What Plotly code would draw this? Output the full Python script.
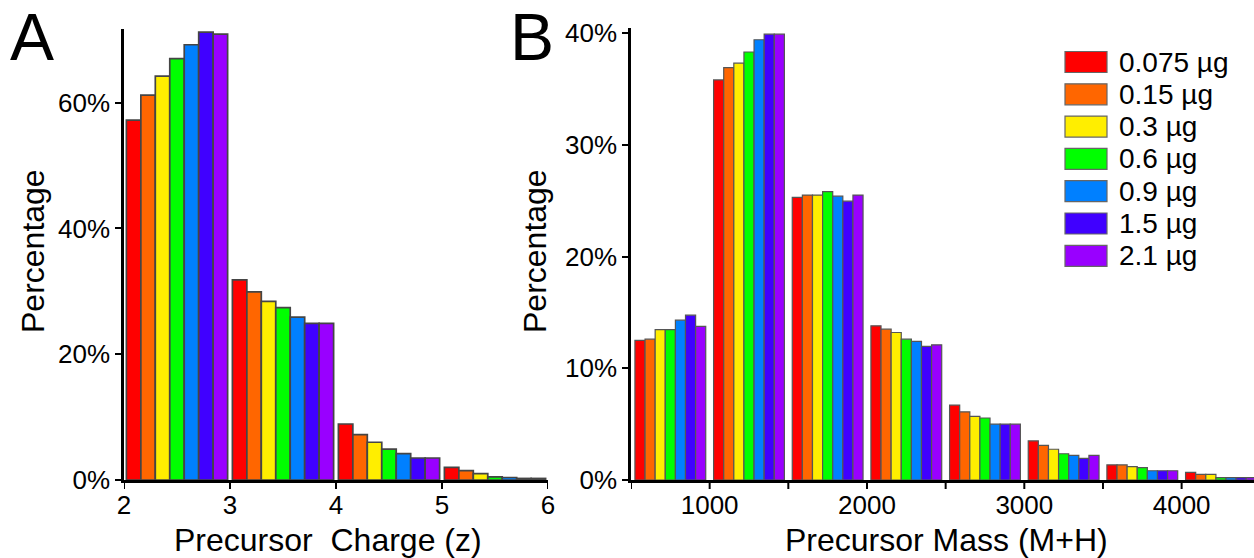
import plotly.graph_objects as go

W, H = 1254, 558

doses = ["0.075 µg", "0.15 µg", "0.3 µg", "0.6 µg", "0.9 µg", "1.5 µg", "2.1 µg"]
colors = ["#FF0000", "#FF6600", "#FFEE00", "#00FF00", "#0080FF", "#4000FF", "#9900FF"]

# Panel A: precursor charge bins (lower edge)
charge_bins = [2, 3, 4, 5]
charge_0075 = [57.2, 31.8, 8.9, 2.0]
charge_015 = [61.2, 29.9, 7.2, 1.5]
charge_03 = [64.2, 28.4, 6.0, 1.0]
charge_06 = [67.0, 27.4, 4.9, 0.5]
charge_09 = [69.2, 25.9, 4.2, 0.4]
charge_15 = [71.2, 24.9, 3.5, 0.25]
charge_21 = [70.9, 24.9, 3.5, 0.25]
charge_series = [charge_0075, charge_015, charge_03, charge_06, charge_09, charge_15, charge_21]

# Panel B: precursor mass bins (lower edge)
mass_bins = [500, 1000, 1500, 2000, 2500, 3000, 3500, 4000]
mass_0075 = [12.5, 35.8, 25.3, 13.8, 6.7, 3.5, 1.35, 0.68]
mass_015 = [12.6, 36.9, 25.5, 13.5, 6.1, 3.1, 1.35, 0.5]
mass_03 = [13.45, 37.3, 25.5, 13.2, 5.7, 2.75, 1.2, 0.5]
mass_06 = [13.45, 38.3, 25.8, 12.6, 5.55, 2.35, 1.1, 0.22]
mass_09 = [14.3, 39.4, 25.4, 12.4, 5.0, 2.2, 0.83, 0.22]
mass_15 = [14.75, 39.9, 24.95, 11.95, 5.0, 1.93, 0.83, 0.22]
mass_21 = [13.75, 39.9, 25.5, 12.1, 5.0, 2.2, 0.83, 0.22]
mass_series = [mass_0075, mass_015, mass_03, mass_06, mass_09, mass_15, mass_21]

charge_ticks = [2, 3, 4, 5, 6]
charge_yticks = [0, 20, 40, 60]
charge_yticktext = ["0%", "20%", "40%", "60%"]
mass_ticks = [500, 1000, 1500, 2000, 2500, 3000, 3500, 4000]
mass_ticktext = ["", "1000", "", "2000", "", "3000", "", "4000"]
mass_yticks = [0, 10, 20, 30, 40]
mass_yticktext = ["0%", "10%", "20%", "30%", "40%"]

FONT = "Liberation Sans, Arial, sans-serif"

fig = go.Figure()

n = len(doses)
# Panel A
binw_a = 1.0
frac_a = 0.955
w_a = binw_a * frac_a / n
for i in range(n):
    fig.add_trace(go.Bar(
        x=charge_bins, y=charge_series[i], name=doses[i],
        width=w_a, offset=binw_a * (1 - frac_a) / 2 + i * w_a,
        marker=dict(color=colors[i], line=dict(color="#454545", width=1.7)),
        xaxis="x", yaxis="y", showlegend=False))

# Panel B
binw_b = 500
frac_b = 0.9
w_b = binw_b * frac_b / n
for i in range(n):
    fig.add_trace(go.Bar(
        x=mass_bins, y=mass_series[i], name=doses[i],
        width=w_b, offset=binw_b * (1 - frac_b) / 2 + i * w_b,
        marker=dict(color=colors[i], line=dict(color="#555555", width=1.2)),
        xaxis="x2", yaxis="y2", showlegend=False))

y0 = 1 - 480 / H
axis_common = dict(showgrid=False, zeroline=False, showline=True, linecolor="black",
                   linewidth=2.5, tickcolor="black", tickwidth=2,
                   automargin=False,
                   tickfont=dict(family=FONT, size=26, color="black"))

fig.update_layout(
    template="none",
    width=W, height=H, margin=dict(l=0, r=0, t=0, b=0),
    paper_bgcolor="white", plot_bgcolor="white", barmode="overlay",
    font=dict(family=FONT, color="black"),
    xaxis=dict(domain=[124 / W, 548 / W], range=[2, 6], tickvals=charge_ticks, ticks="",
               anchor="y", **axis_common),
    yaxis=dict(domain=[y0, 1 - 29 / H], range=[0, 71.7], tickvals=charge_yticks,
               ticktext=charge_yticktext, ticks="outside", ticklen=6,
               anchor="x", **axis_common),
    xaxis2=dict(domain=[631 / W, 1.0], range=[500, 4460], tickvals=mass_ticks,
                ticktext=mass_ticktext, ticks="",
                anchor="y2", **axis_common),
    yaxis2=dict(domain=[y0, 1 - 28 / H], range=[0, 40.45], tickvals=mass_yticks,
                ticktext=mass_yticktext, ticks="outside", ticklen=6,
                anchor="x2", **axis_common),
)

# x tick marks drawn below each axis at the tick values
for xref, vals in (("x", charge_ticks), ("x2", mass_ticks)):
    for v in vals:
        fig.add_shape(type="line", xref=xref, yref="paper", x0=v, x1=v,
                      y0=y0, y1=y0 - 9 / H, line=dict(color="black", width=2))

# Axis titles
title_font = dict(family=FONT, size=32, color="black")
fig.add_annotation(text="Precursor  Charge (z)", x=328 / W, y=1 - 540 / H, xref="paper",
                   yref="paper", xanchor="center", yanchor="middle", showarrow=False,
                   font=title_font)
fig.add_annotation(text="Precursor Mass (M+H)", x=946 / W, y=1 - 540 / H, xref="paper",
                   yref="paper", xanchor="center", yanchor="middle", showarrow=False,
                   font=title_font)
fig.add_annotation(text="Percentage", x=33 / W, y=1 - 251 / H, xref="paper", yref="paper",
                   xanchor="center", yanchor="middle", textangle=-90, showarrow=False,
                   font=title_font)
fig.add_annotation(text="Percentage", x=535 / W, y=1 - 251 / H, xref="paper", yref="paper",
                   xanchor="center", yanchor="middle", textangle=-90, showarrow=False,
                   font=title_font)

# Panel letters
fig.add_annotation(text="A", x=32 / W, y=1 - 37 / H, xref="paper", yref="paper",
                   xanchor="center", yanchor="middle", showarrow=False,
                   font=dict(family=FONT, size=66, color="black"))
fig.add_annotation(text="B", x=532 / W, y=1 - 37 / H, xref="paper", yref="paper",
                   xanchor="center", yanchor="middle", showarrow=False,
                   font=dict(family=FONT, size=66, color="black"))

# Legend drawn as swatches + labels
lx0, lx1 = 1065, 1107
top0, step, sh = 51.5, 32.3, 21
for i in range(n):
    t = top0 + i * step
    fig.add_shape(type="rect", xref="paper", yref="paper",
                  x0=lx0 / W, x1=lx1 / W, y0=1 - (t + sh) / H, y1=1 - t / H,
                  fillcolor=colors[i], line=dict(color="#666666", width=1.2))
    fig.add_annotation(text=doses[i], x=1117 / W, y=1 - (t + sh / 2) / H,
                       xref="paper", yref="paper", xanchor="left", yanchor="middle",
                       showarrow=False, font=dict(family=FONT, size=28, color="black"))

fig.write_html("out.html", config={"displayModeBar": False},
               post_script="document.body.style.margin='0px';")
